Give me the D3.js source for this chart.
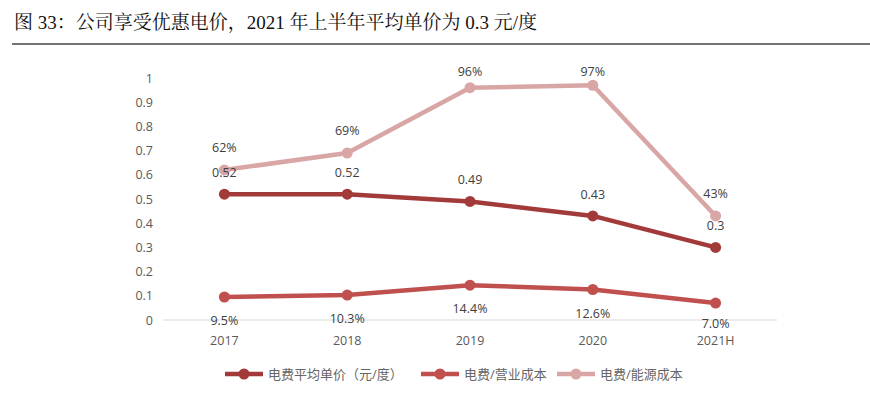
<!DOCTYPE html>
<html><head><meta charset="utf-8">
<script src="https://cdn.jsdelivr.net/npm/d3@7"></script>
<style>body{margin:0;background:#fff;}svg{display:block;}</style>
</head><body><svg id="c" width="870" height="393"></svg>
<script>
const categories = ["2017","2018","2019","2020","2021H"];
const priceValues = [0.52,0.52,0.49,0.43,0.30];
const opRatioValues = [0.095,0.103,0.144,0.126,0.070];
const energyRatioValues = [0.62,0.69,0.96,0.97,0.43];
const priceLabels = ["0.52","0.52","0.49","0.43","0.3"];
const opLabels = ["9.5%","10.3%","14.4%","12.6%","7.0%"];
const energyLabels = ["62%","69%","96%","97%","43%"];
const yTicks = [0,0.1,0.2,0.3,0.4,0.5,0.6,0.7,0.8,0.9,1];
const seriesNames = ["电费平均单价（元/度）","电费/营业成本","电费/能源成本"];
const colors = ["#A33A3A","#C0504D","#D9A6A6"];
const title = "图 33：公司享受优惠电价，2021 年上半年平均单价为 0.3 元/度";

const svg = d3.select("#c");
const cjk = "'Liberation Serif','Noto Serif CJK SC','Noto Sans CJK SC',serif";
const sans = "'Open Sans','Noto Sans CJK SC',sans-serif";

svg.append("text").attr("x",14).attr("y",29).attr("font-family",cjk)
  .attr("font-size",19).attr("fill","#111").text(title);
svg.append("line").attr("x1",12).attr("x2",870).attr("y1",44).attr("y2",44)
  .attr("stroke","#444").attr("stroke-width",1.6);

const x = d3.scaleBand().domain(categories).range([163,777]);
const y = d3.scaleLinear().domain([0,1]).range([320,78]);
const cx = d => x(d)+x.bandwidth()/2;

const g = svg.append("g");
g.selectAll(".yt").data(yTicks).enter().append("text")
  .attr("x",153).attr("y",d=>y(d)+4.5).attr("text-anchor","end")
  .attr("font-family",sans).attr("font-size",12.5).attr("fill","#595959")
  .text(d=>d3.format("~g")(d));
g.append("line").attr("x1",163).attr("x2",777).attr("y1",y(0)).attr("y2",y(0))
  .attr("stroke","#d9d9d9").attr("stroke-width",1);
g.selectAll(".xt").data(categories).enter().append("text")
  .attr("x",d=>cx(d)).attr("y",345).attr("text-anchor","middle")
  .attr("font-family",sans).attr("font-size",12.5).attr("fill","#595959").text(d=>d);

const series = [
  {vals:priceValues, labels:priceLabels, color:colors[0], dy:-17},
  {vals:opRatioValues, labels:opLabels, color:colors[1], dy:28},
  {vals:energyRatioValues, labels:energyLabels, color:colors[2], dy:-18}
];
const line = d3.line().x((d,i)=>cx(categories[i])).y(d=>y(d));
[series[1],series[0],series[2]].forEach(s=>{
  g.append("path").attr("d",line(s.vals)).attr("fill","none")
    .attr("stroke",s.color).attr("stroke-width",4.5).attr("stroke-linejoin","round");
  g.selectAll(null).data(s.vals).enter().append("circle")
    .attr("cx",(d,i)=>cx(categories[i])).attr("cy",d=>y(d)).attr("r",5.5).attr("fill",s.color);
});
series.forEach(s=>{
  g.selectAll(null).data(s.vals).enter().append("text")
    .attr("x",(d,i)=>cx(categories[i])).attr("y",d=>Math.min(Math.max(y(d)+s.dy,76),328)).attr("text-anchor","middle")
    .attr("font-family",sans).attr("font-size",12.5).attr("fill","#404040")
    .text((d,i)=>s.labels[i]);
});

const legX = [225,421,557];
seriesNames.forEach((n,i)=>{
  const lg = svg.append("g");
  lg.append("line").attr("x1",legX[i]).attr("x2",legX[i]+38).attr("y1",374).attr("y2",374)
    .attr("stroke",colors[i]).attr("stroke-width",4.5);
  lg.append("circle").attr("cx",legX[i]+19).attr("cy",374).attr("r",5.5).attr("fill",colors[i]);
  lg.append("text").attr("x",legX[i]+43).attr("y",379).attr("font-family",sans)
    .attr("font-size",13).attr("fill","#666").text(n);
});
</script></body></html>
